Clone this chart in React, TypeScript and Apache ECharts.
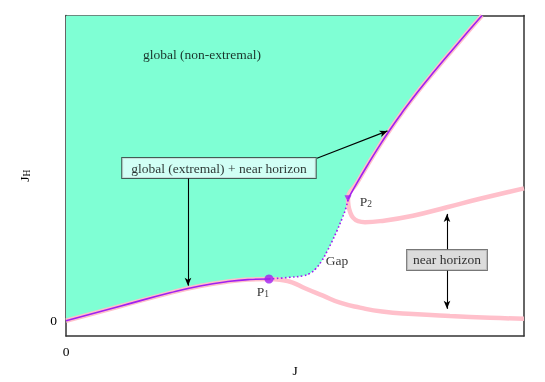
import React, { useEffect, useRef } from 'react';
import * as echarts from 'echarts';

const FONT = "'Liberation Serif', 'Times New Roman', Times, serif";
const PURPLE = '#a020f0';
const PINK = '#ffc0cb';
const AQUA = '#7fffd4';

const X_RANGE = [0, 10];
const Y_RANGE = [-0.5, 10];
const xTickLabels = ['0'];
const yTickLabels = ['0'];

// extremal boundary: origin -> P1
const lowerExtremal: number[][] = [
  [0, 0], [1.179, 0.475], [2.271, 0.915], [2.926, 1.14], [3.581, 1.293], [4.017, 1.351], [4.432, 1.368],
];
// gap boundary: P1 -> P2
const gapBoundary: number[][] = [
  [4.432, 1.368], [4.891, 1.423], [5.175, 1.472], [5.328, 1.553], [5.459, 1.716], [5.59, 1.977],
  [5.699, 2.27], [5.808, 2.595], [5.917, 2.953], [6.026, 3.344], [6.114, 3.702], [6.157, 3.995],
];
// extremal boundary: P2 -> top
const upperExtremal: number[][] = [
  [6.157, 3.995], [6.354, 4.517], [6.572, 5.07], [6.812, 5.656], [7.074, 6.259], [7.358, 6.861],
  [7.686, 7.513], [8.057, 8.196], [8.45, 8.896], [8.821, 9.547], [9.083, 10],
];
// near horizon branch from P1
const lowerNearHorizon: number[][] = [
  [4.432, 1.368], [4.672, 1.342], [4.934, 1.26], [5.218, 1.065], [5.611, 0.821], [5.983, 0.593],
  [6.419, 0.43], [6.9, 0.3], [7.576, 0.218], [8.384, 0.153], [9.258, 0.098], [10, 0.065],
];
// near horizon branch from P2
const upperNearHorizon: number[][] = [
  [6.157, 3.995], [6.168, 3.767], [6.201, 3.572], [6.266, 3.377], [6.376, 3.263], [6.528, 3.23],
  [6.856, 3.263], [7.576, 3.442], [8.319, 3.719], [9.039, 3.995], [10, 4.337],
];
const P1 = [4.432, 1.368];
const P2 = [6.157, 3.995];

// annotation anchors (data coords)
const nonExtremalPos = [2.969, 8.717];
const extremalBoxPos = [3.34, 5.0];
const nearBoxPos = [8.319, 1.993];
const gapPos = [5.917, 1.977];
const p1LabelPos = [4.3, 0.95];
const p2LabelPos = [6.55, 3.9];
const arrows: number[][][] = [
  [[5.48, 5.326], [7.02, 6.22]],
  [[2.664, 4.68], [2.664, 1.15]],
  [[8.319, 2.335], [8.319, 3.5]],
  [[8.319, 1.651], [8.319, 0.39]],
];

export default function App() {
  const ref = useRef<HTMLDivElement>(null);
  useEffect(() => {
    if (!ref.current) return;
    const chart = echarts.init(ref.current, undefined, { renderer: 'svg' });
    const boundary = [...lowerExtremal, ...gapBoundary.slice(1), ...upperExtremal.slice(1)];
    const smooth = 0.5;
    const FS = 13.5;
    const textBase = { fontFamily: FONT, fontSize: FS, color: '#000' };
    const sub = {
      p: { fontFamily: FONT, fontSize: FS, color: '#000', verticalAlign: 'top', lineHeight: 15 },
      s: { fontFamily: FONT, fontSize: 9.5, color: '#000', verticalAlign: 'bottom', lineHeight: 10, padding: [6, 0, 0, 0] },
    };
    const axisCommon = {
      type: 'value',
      splitLine: { show: false },
      axisTick: { show: false },
      axisLine: { show: true, onZero: false, lineStyle: { color: '#333', width: 1.5 } },
    };
    chart.setOption({
      animation: false,
      grid: { left: 66, right: 21, top: 15.5, bottom: 44 },
      xAxis: [
        {
          ...axisCommon,
          min: X_RANGE[0], max: X_RANGE[1], interval: 10,
          position: 'bottom',
          name: 'J', nameLocation: 'middle', nameGap: 27,
          nameTextStyle: textBase,
          axisLabel: {
            ...textBase, margin: 8,
            formatter: (v: number) => (Math.abs(v) < 1e-9 ? xTickLabels[0] : ''),
          },
        },
        { ...axisCommon, min: X_RANGE[0], max: X_RANGE[1], position: 'top', axisLabel: { show: false } },
      ],
      yAxis: [
        {
          ...axisCommon,
          min: Y_RANGE[0], max: Y_RANGE[1], interval: 0.5,
          position: 'left',
          name: '{p|J}{s|H}', nameLocation: 'middle', nameGap: 34, nameRotate: 90,
          nameTextStyle: { ...textBase, rich: sub },
          axisLabel: {
            ...textBase, margin: 9, interval: 0,
            formatter: (v: number) => (Math.abs(v) < 1e-9 ? yTickLabels[0] : ''),
          },
        },
        { ...axisCommon, min: Y_RANGE[0], max: Y_RANGE[1], position: 'right', axisLabel: { show: false } },
      ],
      series: [
        {
          type: 'line', data: boundary, smooth, symbol: 'none', silent: true,
          lineStyle: { width: 0 },
          areaStyle: { color: AQUA, opacity: 1, origin: 'end' },
          z: 1,
        },
        { type: 'line', data: [...lowerExtremal, ...lowerNearHorizon.slice(1)], smooth, symbol: 'none', silent: true, lineStyle: { color: PINK, width: 4.5 }, z: 2 },
        { type: 'line', data: [...upperExtremal].reverse().concat(upperNearHorizon.slice(1)), smooth, symbol: 'none', silent: true, lineStyle: { color: PINK, width: 4.5 }, z: 2 },
        { type: 'line', data: lowerExtremal, smooth, symbol: 'none', silent: true, lineStyle: { color: PURPLE, width: 1.6 }, z: 3 },
        { type: 'line', data: upperExtremal, smooth, symbol: 'none', silent: true, lineStyle: { color: PURPLE, width: 1.6 }, z: 3 },
        { type: 'line', data: gapBoundary, smooth, symbol: 'none', silent: true, lineStyle: { color: PURPLE, width: 1.6, type: [1.6, 2.4] }, z: 3 },
        { type: 'scatter', data: [P1], symbol: 'circle', symbolSize: 9, itemStyle: { color: PURPLE }, silent: true, z: 4 },
        { type: 'scatter', data: [P2], symbol: 'triangle', symbolRotate: 180, symbolSize: 7, itemStyle: { color: PURPLE }, silent: true, z: 4 },
        {
          type: 'scatter', symbol: 'circle', symbolSize: 1, silent: true, z: 6,
          itemStyle: { color: 'rgba(0,0,0,0)' },
          label: { show: true, position: 'inside', ...textBase },
          data: [
            { value: nonExtremalPos, label: { formatter: 'global (non-extremal)' } },
            { value: gapPos, label: { formatter: 'Gap' } },
            { value: p1LabelPos, label: { formatter: '{p|P}{s|1}', rich: sub } },
            { value: p2LabelPos, label: { formatter: '{p|P}{s|2}', rich: sub } },
            {
              value: extremalBoxPos,
              label: {
                formatter: 'global (extremal) + near horizon',
                backgroundColor: '#e6fffd', borderColor: '#333', borderWidth: 1, padding: [3, 9],
              },
            },
            {
              value: nearBoxPos,
              label: {
                formatter: 'near horizon',
                backgroundColor: '#d3d3d3', borderColor: '#555', borderWidth: 1, padding: [3, 6],
              },
            },
          ],
          markLine: {
            silent: true,
            symbol: ['none', 'arrow'],
            symbolSize: [5, 8],
            label: { show: false },
            lineStyle: { color: '#000', width: 1.1, type: 'solid' },
            data: arrows.map((a) => [{ coord: a[0] }, { coord: a[1] }]),
          },
        },
      ],
    });
    return () => chart.dispose();
  }, []);
  return <div ref={ref} style={{ position: 'fixed', left: 0, top: 0, width: 545, height: 382 }} />;
}
